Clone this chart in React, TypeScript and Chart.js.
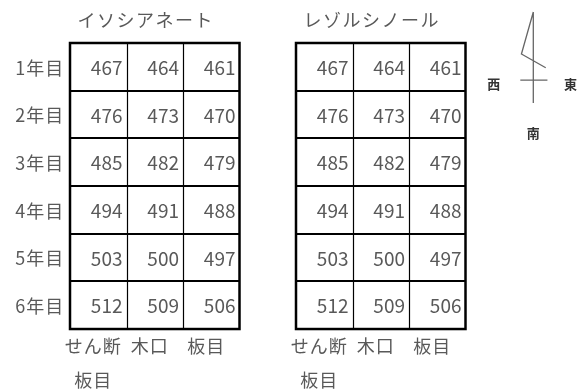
import React, { useEffect, useRef } from "react";
import { Chart, registerables } from "chart.js";

Chart.register(...registerables);

// ---- data ----
const ROW_LABELS = ["1年目", "2年目", "3年目", "4年目", "5年目", "6年目"];
const COLUMN_LABELS = [["せん断", "板目"], ["木口"], ["板目"]];
const TABLE_TITLES = ["イソシアネート", "レゾルシノール"];

const ISO_SHEAR_FLAT = [467, 476, 485, 494, 503, 512];
const ISO_END_GRAIN = [464, 473, 482, 491, 500, 509];
const ISO_FLAT = [461, 470, 479, 488, 497, 506];

const RES_SHEAR_FLAT = [467, 476, 485, 494, 503, 512];
const RES_END_GRAIN = [464, 473, 482, 491, 500, 509];
const RES_FLAT = [461, 470, 479, 488, 497, 506];

const COMPASS_LABELS = { west: "西", east: "東", south: "南" };

// layout (scale units: one unit = one cell)
const TABLE_COL_START = [0, 4];
const FONT = '"Noto Sans CJK JP", "Noto Sans", sans-serif';
const TEXT = "#595959";

const tables = [
  [ISO_SHEAR_FLAT, ISO_END_GRAIN, ISO_FLAT],
  [RES_SHEAR_FLAT, RES_END_GRAIN, RES_FLAT],
];

function buildDatasets() {
  return tables.map((cols, t) => ({
    label: TABLE_TITLES[t],
    data: cols.flatMap((vals, c) =>
      vals.map((v, r) => ({ x: TABLE_COL_START[t] + c + 0.5, y: r + 0.5, v, c, r }))
    ),
    pointRadius: 0,
    showLine: false,
  }));
}

const tablePlugin = {
  id: "tablePlugin",
  afterDatasetsDraw(chart: any) {
    const ctx = chart.ctx;
    const xs = chart.scales.x;
    const ys = chart.scales.y;
    const px = (v: number) => xs.getPixelForValue(v);
    const py = (v: number) => ys.getPixelForValue(v);
    const nRows = ROW_LABELS.length;
    ctx.save();

    chart.data.datasets.forEach((ds: any, t: number) => {
      const x0 = TABLE_COL_START[t];
      const L = px(x0), R = px(x0 + 3), T = py(0), B = py(nRows);
      ctx.strokeStyle = "#000";
      // vertical inner lines
      ctx.lineWidth = 1.2;
      for (let c = 1; c < 3; c++) {
        ctx.beginPath();
        ctx.moveTo(Math.round(px(x0 + c)) + 0.5, T);
        ctx.lineTo(Math.round(px(x0 + c)) + 0.5, B);
        ctx.stroke();
      }
      // horizontal inner lines
      ctx.lineWidth = 2;
      for (let r = 1; r < nRows; r++) {
        ctx.beginPath();
        ctx.moveTo(L, Math.round(py(r)));
        ctx.lineTo(R, Math.round(py(r)));
        ctx.stroke();
      }
      ctx.lineWidth = 2.5;
      ctx.strokeRect(L, T, R - L, B - T);

      // values
      ctx.fillStyle = TEXT;
      ctx.font = `19px ${FONT}`;
      ctx.textAlign = "right";
      ctx.textBaseline = "middle";
      ds.data.forEach((d: any) => {
        ctx.fillText(String(d.v), px(x0 + d.c + 1) - 4, py(d.y) + 1);
      });

      // title
      ctx.textAlign = "center";
      ctx.font = `18px ${FONT}`;
      (ctx as any).letterSpacing = "1.5px";
      ctx.fillText(ds.label, px(x0 + 1.5) - 9, py(-0.48));

      // bottom column labels
      ctx.font = `18px ${FONT}`;
      (ctx as any).letterSpacing = "1px";
      COLUMN_LABELS.forEach((lines, c) => {
        lines.forEach((line, li) => {
          ctx.fillText(line, px(x0 + c + 0.5) - 5, py(nRows + 0.35 + li * 0.72));
        });
      });
      (ctx as any).letterSpacing = "0px";
    });

    // row labels
    ctx.textAlign = "right";
    ctx.font = `18px ${FONT}`;
    ctx.fillStyle = TEXT;
    (ctx as any).letterSpacing = "1px";
    ROW_LABELS.forEach((lab, r) => {
      ctx.fillText(lab, px(-0.1), py(r + 0.5) + 1);
    });
    (ctx as any).letterSpacing = "0px";

    // compass
    const cx = 8.2, cy = 0.78;
    ctx.strokeStyle = "#666";
    ctx.lineWidth = 1.3;
    ctx.beginPath();
    ctx.moveTo(px(cx), py(-0.65));
    ctx.lineTo(px(cx), py(cy + 0.48));
    ctx.moveTo(px(cx - 0.23), py(cy));
    ctx.lineTo(px(cx + 0.25), py(cy));
    ctx.moveTo(px(cx), py(-0.65));
    ctx.lineTo(px(cx - 0.21), py(0.23));
    ctx.lineTo(px(cx + 0.22), py(0.52));
    ctx.stroke();
    ctx.fillStyle = "#333";
    ctx.font = `bold 13px ${FONT}`;
    ctx.textAlign = "center";
    ctx.fillText(COMPASS_LABELS.west, px(cx - 0.7), py(cy + 0.08));
    ctx.fillText(COMPASS_LABELS.east, px(cx + 0.66), py(cy + 0.08));
    ctx.fillText(COMPASS_LABELS.south, px(cx), py(cy + 1.1));

    ctx.restore();
  },
};

export default function App() {
  const ref = useRef<HTMLCanvasElement | null>(null);
  useEffect(() => {
    document.body.style.margin = "0";
    const chart = new Chart(ref.current as HTMLCanvasElement, {
      type: "scatter",
      data: { datasets: buildDatasets() as any },
      options: {
        animation: false,
        responsive: false,
        layout: { padding: 0 },
        plugins: { legend: { display: false }, tooltip: { enabled: false }, title: { display: false } },
        scales: {
          x: { type: "linear", display: false, min: -1.239, max: 9.115 },
          y: { type: "linear", display: false, reverse: true, min: -0.902, max: 7.321 },
        },
      },
      plugins: [tablePlugin],
    });
    return () => chart.destroy();
  }, []);
  return (
    <div style={{ width: 585, height: 392, background: "#fff" }}>
      <canvas ref={ref} width={585} height={392} />
    </div>
  );
}
